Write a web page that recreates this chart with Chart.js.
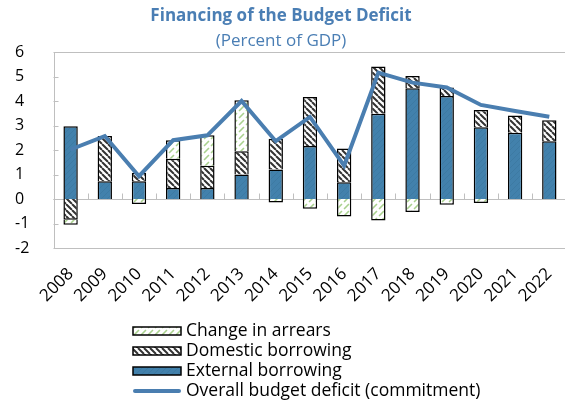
<!DOCTYPE html>
<html>
<head>
<meta charset="utf-8">
<script src="https://cdn.jsdelivr.net/npm/chart.js@4.4.0/dist/chart.umd.min.js"></script>
<style>
  html, body { margin: 0; padding: 0; background: #fff; overflow: hidden; }
  #wrap { width: 580px; height: 402px; }
</style>
</head>
<body>
<div id="wrap"><canvas id="myChart" width="580" height="402"></canvas></div>
<script>
const years = ['2008', '2009', '2010', '2011', '2012', '2013', '2014', '2015',
               '2016', '2017', '2018', '2019', '2020', '2021', '2022'];
const externalBorrowing = [2.97, 0.72, 0.72, 0.45, 0.45, 1.0, 1.2, 2.16, 0.68, 3.48, 4.52, 4.2, 2.93, 2.7, 2.36];
const domesticBorrowing = [-0.85, 1.85, 0.35, 1.19, 0.91, 0.95, 1.26, 2.0, 1.38, 1.93, 0.5, 0.35, 0.7, 0.71, 0.85];
const arrearsChange = [-0.2, 0, -0.2, 0.76, 1.24, 2.08, -0.14, -0.4, -0.71, -0.88, -0.53, -0.23, -0.16, 0, 0];
const overallDeficit = [2.02, 2.57, 0.93, 2.4, 2.6, 4.0, 2.36, 3.35, 1.36, 5.16, 4.75, 4.55, 3.84, 3.59, 3.36];
const yMin = -2, yMax = 6;

const titleText = 'Financing of the Budget Deficit';
const subtitleText = '(Percent of GDP)';

const blue = '#4281ac';
const lineBlue = '#4a7eb0';
const titleBlue = '#4a7eb4';

Chart.defaults.font.family = "'Open Sans', sans-serif";
Chart.defaults.color = '#000';

// hatch fills
function hatch(bg, stroke, lw, size, dir, dashed) {
  const c = document.createElement('canvas');
  c.width = size; c.height = size;
  const g = c.getContext('2d');
  g.fillStyle = bg;
  g.fillRect(0, 0, size, size);
  g.strokeStyle = stroke;
  g.lineWidth = lw;
  g.beginPath();
  for (let k = -1; k <= 1; k++) {
    if (dir === 'down') {
      g.moveTo(k * size, 0);
      g.lineTo(k * size + size, size);
    } else if (dashed) {
      g.moveTo(k * size + size * 0.15, size * 0.85);
      g.lineTo(k * size + size * 0.85, size * 0.15);
    } else {
      g.moveTo(k * size, size);
      g.lineTo(k * size + size, 0);
    }
  }
  g.stroke();
  return g.createPattern(c, 'repeat');
}

const ctx = document.getElementById('myChart').getContext('2d');
const externalFill = hatch(blue, '#3d7aa3', 1, 6, 'up', false);
const domesticFill = hatch('#fff', '#333', 2, 6, 'down', false);
const arrearsFill = hatch('#fff', '#a9d18e', 1.6, 7, 'up', true);

const data = {
  labels: years,
  datasets: [
    {
      label: 'External borrowing',
      data: externalBorrowing,
      backgroundColor: externalFill,
      borderColor: '#000',
      borderWidth: 1.5,
      stack: 's',
      order: 1
    },
    {
      label: 'Domestic borrowing',
      data: domesticBorrowing,
      backgroundColor: domesticFill,
      borderColor: '#000',
      borderWidth: 1.5,
      stack: 's',
      order: 1
    },
    {
      label: 'Change in arrears',
      data: arrearsChange,
      backgroundColor: arrearsFill,
      borderColor: '#000',
      borderWidth: 1.5,
      stack: 's',
      order: 1
    },
    {
      type: 'line',
      label: 'Overall budget deficit (commitment)',
      data: overallDeficit,
      borderColor: lineBlue,
      backgroundColor: lineBlue,
      borderWidth: 4,
      pointRadius: 0,
      tension: 0,
      order: 0
    }
  ]
};

// frame, zero line and small tick marks
const framePlugin = {
  id: 'frame',
  beforeDatasetsDraw(chart) {
    const c = chart.ctx, a = chart.chartArea;
    const x = chart.scales.x, y = chart.scales.y;
    c.save();
    c.strokeStyle = '#bfbfbf';
    c.lineWidth = 1;
    c.strokeRect(Math.round(a.left) + 0.5, Math.round(a.top) + 0.5,
                 Math.round(a.right - a.left), Math.round(a.bottom - a.top));
    const y0 = Math.round(y.getPixelForValue(0)) + 0.5;
    c.beginPath();
    c.moveTo(a.left, y0);
    c.lineTo(a.right, y0);
    for (let i = 1; i < years.length; i++) {
      const xb = Math.round((x.getPixelForValue(i - 1) + x.getPixelForValue(i)) / 2) + 0.5;
      c.moveTo(xb, y0 - 6);
      c.lineTo(xb, y0);
    }
    y.ticks.forEach(t => {
      const yy = Math.round(y.getPixelForValue(t.value)) + 0.5;
      c.moveTo(a.left, yy);
      c.lineTo(a.left + 5, yy);
    });
    c.stroke();
    c.restore();
  }
};

// titles and stacked legend
const textPlugin = {
  id: 'texts',
  afterDraw(chart) {
    const c = chart.ctx;
    c.save();
    c.textAlign = 'center';
    c.textBaseline = 'middle';
    c.fillStyle = titleBlue;
    c.font = "bold 17px 'Open Sans'";
    c.fillText(titleText, 281, 16);
    c.font = "17px 'Open Sans'";
    c.fillText(subtitleText, 281, 41);

    const order = [2, 1, 0, 3];
    const bx = 133, bw = 48, bh = 8;
    c.textAlign = 'left';
    c.font = "17.5px 'Open Sans'";
    order.forEach((di, row) => {
      const ds = chart.data.datasets[di];
      const cy = 331 + row * 20;
      if (ds.type === 'line') {
        c.strokeStyle = ds.borderColor;
        c.lineWidth = 4;
        c.lineCap = 'round';
        c.beginPath();
        c.moveTo(bx + 2, cy);
        c.lineTo(bx + bw - 2, cy);
        c.stroke();
      } else {
        c.fillStyle = ds.backgroundColor;
        c.fillRect(bx, cy - bh / 2, bw, bh);
        c.strokeStyle = '#000';
        c.lineWidth = 1.5;
        c.strokeRect(bx, cy - bh / 2, bw, bh);
      }
      c.fillStyle = '#000';
      c.fillText(ds.label, bx + bw + 5, cy);
    });
    c.restore();
  }
};

const config = {
  type: 'bar',
  data: data,
  options: {
    responsive: false,
    animation: false,
    layout: { padding: { left: 15, top: 52, right: 8, bottom: 100 } },
    datasets: {
      bar: { barPercentage: 0.42, categoryPercentage: 1.0 }
    },
    plugins: {
      legend: { display: false },
      title: { display: false },
      tooltip: { enabled: false }
    },
    scales: {
      x: {
        stacked: true,
        offset: true,
        grid: { display: false, drawTicks: false },
        border: { display: false },
        ticks: { maxRotation: 45, minRotation: 45, padding: 16, font: { size: 17 }, color: '#000' },
        afterFit: s => { s.height = 54; }
      },
      y: {
        stacked: true,
        min: yMin,
        max: yMax,
        grid: { display: false, drawTicks: false },
        border: { display: false },
        ticks: { stepSize: 1, crossAlign: 'far', padding: 4, font: { size: 16 }, color: '#000' },
        afterFit: s => { s.width = 38.5; }
      }
    }
  },
  plugins: [framePlugin, textPlugin]
};

var myChart = new Chart(ctx, config);
</script>
</body>
</html>
